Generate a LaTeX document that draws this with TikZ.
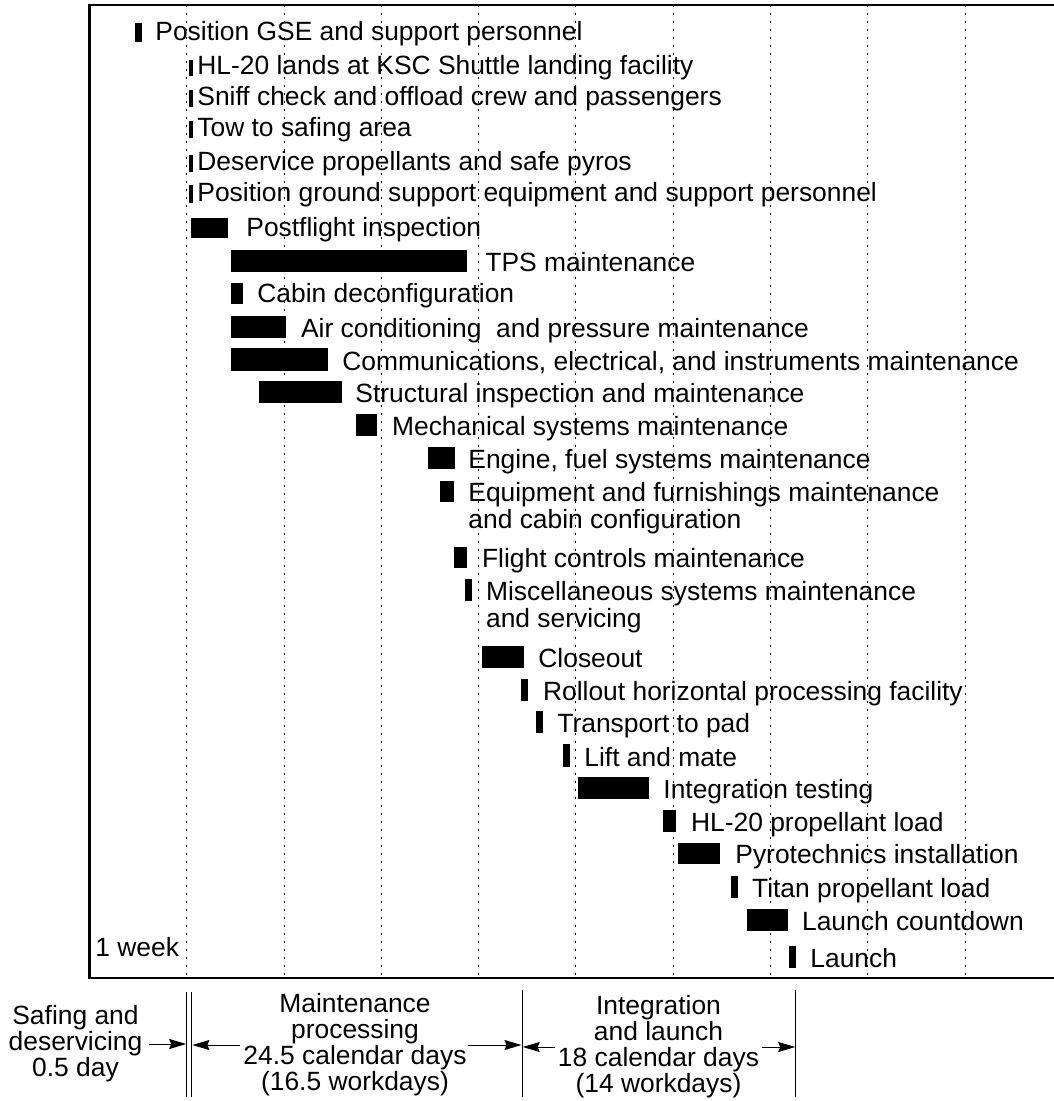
\documentclass[tikz,border=0pt]{standalone}
\usepackage{fontspec}
\setmainfont{Liberation Sans}
\usetikzlibrary{positioning,calc,arrows.meta}

\tikzset{
	lbl/.style={anchor=base west, inner sep=0pt, font=\fontsize{13.2}{13}\selectfont},
	span/.style={align=center, inner sep=0pt, font=\fontsize{13.2}{13}\selectfont},
	weekline/.style={line width=0.5pt, dash pattern=on 1pt off 3pt},
	dim/.style={line width=0.5pt, -{Stealth[length=8.5pt, width=5pt, inset=1pt]}},
}

\begin{document}
\begin{tikzpicture}[x=0.5pt, y=-0.5pt]
	\useasboundingbox (0,0) rectangle (1053,1101);
	% week lines
	\foreach \k in {0,...,8}
		\draw[weekline] ({186.7+97.3*\k},5) -- ({186.7+97.3*\k},978);
	\draw[line width=1.2pt] (1060,5) -- (89.5,5) -- (89.5,978) -- (1060,978);

	% tasks: bar from xa to xb, ya to yb, label at lx
	\foreach \xa/\xb/\ya/\yb/\lx/\txt [count=\i] in {
		135/142/23/42/155/{Position GSE and support personnel},
		189/193/60/76/197/{HL-20 lands at KSC Shuttle landing facility},
		189/193/90/107/197/{Sniff check and offload crew and passengers},
		189/193/121/138/197/{Tow to safing area},
		189/193/155/172/197/{Deservice propellants and safe pyros},
		189/193/185/203/197/{Position ground support equipment and support personnel},
		190.7/228/218/238/246/{Postflight inspection},
		230.7/467.3/250/272/485/{TPS maintenance},
		230.7/242.7/283/304/257/{Cabin deconfiguration},
		230.7/286/316/338/300.7/{Air conditioning~ and pressure maintenance},
		230.7/328/348/371/342/{Communications, electrical, and instruments maintenance},
		259/342/381/403/355/{Structural inspection and maintenance},
		356/376.7/414/436/391.7/{Mechanical systems maintenance},
		428/455/447/469/468/{Engine, fuel systems maintenance},
		440/454/481/502/468/{Equipment and furnishings maintenance},
		454/466.7/547/568/481.7/{Flight controls maintenance},
		465/471.7/579/601/485.7/{Miscellaneous systems maintenance},
		481.7/524/646/668/538/{Closeout},
		520.7/527.7/679/701/542.7/{Rollout horizontal processing facility},
		536/543/711/733/557/{Transport to pad},
		563/570/744/767/584/{Lift and mate},
		578/649/777/799/663/{Integration testing},
		663/676/810/832/690.7/{HL-20 propellant load},
		678/720/843/864/735/{Pyrotechnics installation},
		731/737.7/876/898/751.7/{Titan propellant load},
		746.7/787.7/909/931/801.7/{Launch countdown},
		789/796/946/968/810/{Launch}}
	{
		\fill (\xa,\ya) rectangle (\xb,\yb);
		\node[lbl] (task\i) at (\lx,\yb-1) {\txt};
	}
	\node[lbl] (task15b) at ($(task15.base west)+(0,27)$) {and cabin configuration};
	\node[lbl] (task17b) at ($(task17.base west)+(0,27)$) {and servicing};
	\node[lbl, name=week] at (95,956) {1 week};

	% phases
	\node[span, name=safing] at (75.5,1044) {Safing and\\deservicing\\0.5 day};
	\node[span, name=maint] at (355,1045) {Maintenance\\processing\\24.5 calendar days\\(16.5 workdays)};
	\node[span, name=integ] at (658.5,1047) {Integration\\and launch\\18 calendar days\\(14 workdays)};

	\draw[line width=0.5pt] (186.7,992) -- (186.7,1097);
	\draw[line width=0.5pt] (191.7,992) -- (191.7,1097);
	\draw[line width=0.5pt] (522,990) -- (522,1097);
	\draw[line width=0.5pt] (795.7,990) -- (795.7,1097);

	\coordinate (sd) at (safing.east -| 186.2,0);
	\coordinate (mp) at (maint.west -| 192.4,0);
	\coordinate (me) at (maint.east -| 521.5,0);
	\coordinate (il) at (integ.west -| 522.7,0);
	\coordinate (ie) at (integ.east -| 795.2,0);
	\draw[dim] ([xshift=3pt]safing.east) -- (sd);
	\draw[dim] ([xshift=-1.5pt]maint.west) -- (mp);
	\draw[dim] ([xshift=0.5pt]maint.east) -- (me);
	\draw[dim] ([xshift=-1.5pt]integ.west) -- (il);
	\draw[dim] ([xshift=1.5pt]integ.east) -- (ie);
\end{tikzpicture}
\end{document}
